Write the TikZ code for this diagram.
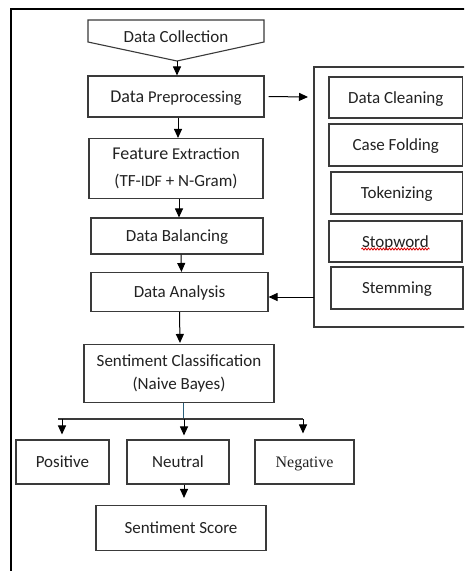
\documentclass[tikz,border=0pt]{standalone}
\usepackage{fontspec}
\setmainfont{Carlito}
\newfontfamily\serifb{Liberation Serif}
\usetikzlibrary{arrows.meta,decorations.pathmorphing}
\definecolor{boxgray}{HTML}{3A3A3A}
\definecolor{textgray}{HTML}{222222}
\definecolor{splitblue}{HTML}{2A5F7A}
\begin{document}
\begin{tikzpicture}[x=1pt,y=-1pt,
  box/.style={draw=boxgray, line width=1.1pt, inner sep=0pt, text=textgray,
    font=\fontsize{17}{27}\selectfont, align=center},
  one/.style={text height=11pt, text depth=0pt},
  arr/.style={-{Triangle[width=8pt,length=9pt]}, line width=1pt, draw=black},
]
\useasboundingbox (0,0) rectangle (464,571);
\clip (0,0) rectangle (464,571);
\fill[white] (0,0) rectangle (464,571);

% outer frame (cropped)
\draw[line width=1.3pt] (11,580) -- (11,9) -- (470,9);

% Data Collection (off-page shape)
\draw[draw=boxgray, line width=1.1pt] (88,20) -- (264,20) -- (264,42) -- (177,61) -- (88,42) -- cycle;
\node[text=textgray, font=\fontsize{17}{27}\selectfont, inner sep=0pt, one] (dc) at (176,37) {Data Collection};
\coordinate (dcp) at (177,61);

\node[box, one, minimum width=176pt, minimum height=41pt] (dp) at (176,96.5)
  {{\fontsize{18}{27}\selectfont Data} {\fontsize{16.5}{27}\selectfont Preprocessing}};
\node[box, minimum width=174pt, minimum height=60pt] (fe) at (176,168.5)
  {{\fontsize{18}{27}\selectfont Feature} {\fontsize{16.5}{27}\selectfont Extraction}\\(TF-{\fontsize{16}{27}\selectfont IDF} + N-Gram)};
\node[box, one, minimum width=172pt, minimum height=36pt] (db) at (177,236) {Data Balancing};
\node[box, one, minimum width=177pt, minimum height=39pt] (da) at (179.5,292) {Data Analysis};
\node[box, minimum width=190pt, minimum height=58pt, font=\fontsize{17}{23}\selectfont] (sc) at (179,373.5) {Sentiment Classification\\(Naive Bayes)};
\node[box, one, minimum width=93pt, minimum height=44pt] (pos) at (62.5,462) {Positive};
\node[box, one, minimum width=102pt, minimum height=44pt] (neu) at (178,462) {Neutral};
\node[box, one, minimum width=99pt, minimum height=44pt, font=\serifb\fontsize{16}{26}\selectfont] (neg) at (304.5,462) {Negative};
\node[box, one, minimum width=170pt, minimum height=45pt] (ss) at (181,528) {Sentiment Score};

% right panel (cropped at the right edge)
\draw[draw=boxgray, line width=1.1pt] (470,67) -- (314,67) -- (314,327) -- (470,327);
\coordinate (panelL) at (314,297);
\coordinate (panelT) at (314,97);
\node[box, one, minimum width=133.5pt, minimum height=41pt] (clean) at (395.75,97.5) {Data Cleaning};
\node[box, one, minimum width=133.5pt, minimum height=42pt] (case) at (395.75,145) {Case Folding};
\node[box, one, minimum width=131.5pt, minimum height=42pt] (tok) at (396.75,193) {Tokenizing};
\node[box, one, minimum width=133pt, minimum height=41pt] (stop) at (395.5,241.5) {Stopword};
\node[box, one, minimum width=132pt, minimum height=42pt] (stem) at (397,288) {Stemming};
\draw[red!85!black, line width=0.8pt, decorate, decoration={snake, amplitude=1pt, segment length=3pt}]
  ([xshift=-34pt,yshift=-7.5pt]stop.center) -- ([xshift=34pt,yshift=-7.5pt]stop.center);

% connectors
\draw[arr] (dcp) -- (dcp |- dp.north);
\draw[arr] ([xshift=2pt]dp.south) -- ([xshift=2pt]fe.north);
\draw[arr] ([xshift=3pt]fe.south) -- ([xshift=2pt]db.north);
\draw[arr] ([xshift=4pt]db.south) -- ([xshift=2pt]da.north);
\draw[arr] (da.south) -- ([xshift=1pt,yshift=1pt]sc.north);
\draw[arr] ([xshift=4pt]dp.east) -- ([xshift=-6pt]panelT);
\draw[arr] (panelL) -- (da.east |- panelL);

\coordinate (split) at (183,419);
\coordinate (hl) at (58,419);
\coordinate (hr) at (303,419);
\draw[splitblue, line width=0.7pt] (sc.south -| split) -- (split);
\draw[boxgray, line width=1.2pt] (hl) -- (hr);
\draw[arr] ([xshift=4pt]hl) -- ([xshift=4pt,yshift=5pt]hl |- pos.north);
\draw[arr] ([xshift=1pt]split) -- ([xshift=1pt,yshift=4pt]split |- neu.north);
\draw[arr] (hr) -- ([yshift=6pt]hr |- neg.north);
\draw[arr] ([xshift=1pt]neu.south -| split) -- ([xshift=1pt,yshift=7pt]ss.north -| split);
\end{tikzpicture}
\end{document}
